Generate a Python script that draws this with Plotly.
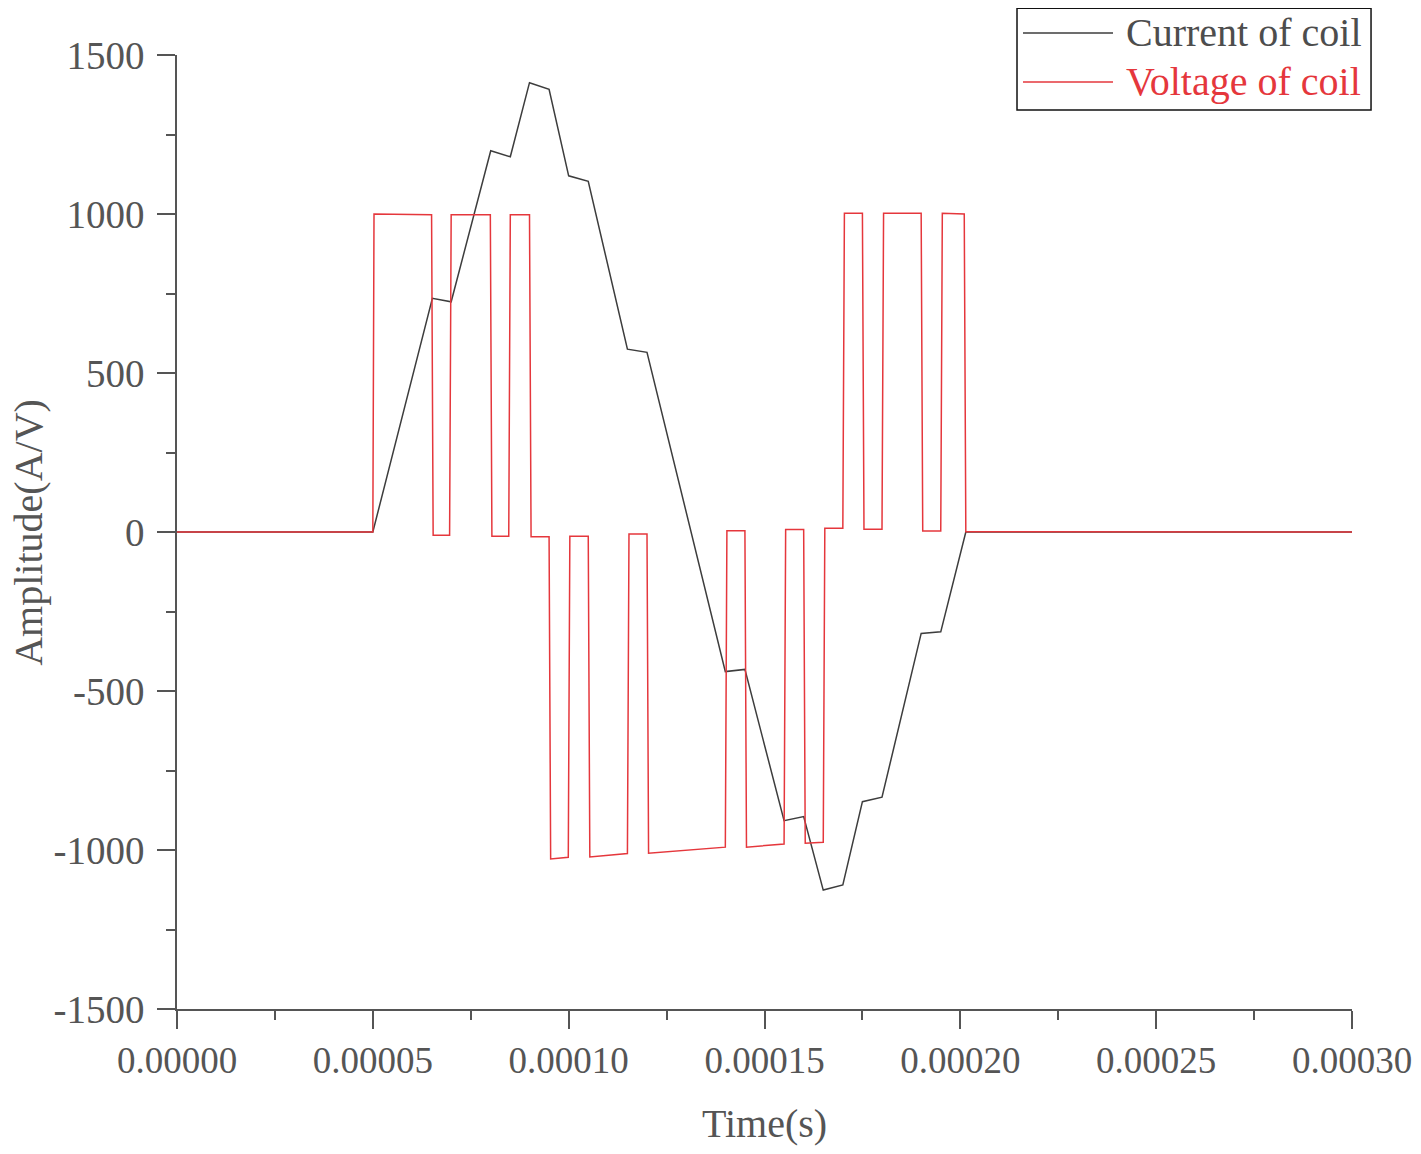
import plotly.graph_objects as go

# ---- data ----
current_t = [0, 5.0e-5, 6.52e-5, 7.0e-5, 8.01e-5, 8.51e-5, 9.0e-5, 9.5e-5, 1.0e-4, 1.05e-4,
             1.15e-4, 1.2e-4, 1.4e-4, 1.45e-4, 1.55e-4, 1.6e-4, 1.65e-4, 1.7e-4, 1.75e-4,
             1.8e-4, 1.9e-4, 1.95e-4, 2.014e-4, 3.0e-4]
current_v = [0, 0, 735, 724, 1199, 1180, 1413, 1392, 1120, 1103,
             575, 565, -439, -432, -908, -895, -1126, -1110, -848,
             -834, -319, -314, 0, 0]

voltage_t = [0, 5.0e-5, 5.03e-5, 6.5e-5, 6.54e-5, 6.96e-5, 7.0e-5, 8.0e-5, 8.04e-5, 8.47e-5,
             8.51e-5, 9.0e-5, 9.04e-5, 9.5e-5, 9.54e-5, 9.99e-5, 1.003e-4, 1.05e-4, 1.054e-4,
             1.15e-4, 1.154e-4, 1.2e-4, 1.204e-4, 1.4e-4, 1.404e-4, 1.45e-4, 1.454e-4,
             1.55e-4, 1.554e-4, 1.6e-4, 1.604e-4, 1.65e-4, 1.654e-4, 1.7e-4, 1.704e-4,
             1.75e-4, 1.754e-4, 1.8e-4, 1.804e-4, 1.9e-4, 1.904e-4, 1.95e-4, 1.954e-4,
             2.01e-4, 2.014e-4, 3.0e-4]
voltage_v = [0, 0, 1000, 998, -10, -10, 998, 998, -13, -13,
             998, 998, -15, -15, -1028, -1023, -13, -13, -1022,
             -1011, -6, -6, -1010, -991, 4, 4, -991,
             -981, 8, 8, -979, -976, 12, 12, 1002,
             1002, 9, 9, 1002, 1002, 3, 3, 1002,
             1000, 1, 0]

x_ticks = [0, 0.00005, 0.0001, 0.00015, 0.0002, 0.00025, 0.0003]
x_tick_text = ["0.00000", "0.00005", "0.00010", "0.00015", "0.00020", "0.00025", "0.00030"]
y_ticks = [-1500, -1000, -500, 0, 500, 1000, 1500]
y_tick_text = ["-1500", "-1000", "-500", "0", "500", "1000", "1500"]

series_names = ["Current of coil", "Voltage of coil"]
x_title = "Time(s)"
y_title = "Amplitude(A/V)"
black = "#3d3d3d"
red = "#e5373c"
grey = "#555555"
font_family = "Liberation Serif"

fig = go.Figure()
fig.add_trace(go.Scatter(x=current_t, y=current_v, mode="lines", name=series_names[0],
                         line=dict(color=black, width=1.5), showlegend=False))
fig.add_trace(go.Scatter(x=voltage_t, y=voltage_v, mode="lines", name=series_names[1],
                         line=dict(color=red, width=1.5), showlegend=False))

axis_common = dict(showline=True, linecolor=grey, linewidth=1.5, ticks="outside",
                   tickcolor=grey, tickwidth=1.5, ticklen=18, showgrid=False, zeroline=False,
                   mirror=False, automargin=False, ticklabeloverflow="allow")

fig.update_xaxes(range=[0, 0.0003], tickvals=x_ticks, ticktext=x_tick_text,
                 tickfont=dict(family=font_family, size=37, color=grey),
                 title=dict(text=x_title, font=dict(family=font_family, size=40, color=grey),
                            standoff=32),
                 minor=dict(ticks="outside", ticklen=9, tickcolor=grey, tickwidth=1.5,
                            dtick=0.000025, tick0=0),
                 **axis_common)
fig.update_yaxes(range=[-1500, 1500], tickvals=y_ticks, ticktext=y_tick_text,
                 tickfont=dict(family=font_family, size=39, color=grey),
                 ticklabelstandoff=5,
                 minor=dict(ticks="outside", ticklen=9, tickcolor=grey, tickwidth=1.5,
                            dtick=250, tick0=0),
                 **axis_common)

# y-axis title as rotated text (placed further left, as in the reference)
fig.add_annotation(xref="paper", yref="paper", x=-0.127, y=0.5, text=y_title, showarrow=False,
                   textangle=-90, xanchor="center", yanchor="middle",
                   font=dict(family=font_family, size=40, color=grey))

# custom legend (box, line samples, labels)
fig.add_shape(type="rect", xref="paper", yref="paper", x0=0.7149, x1=1.0162, y0=0.9423, y1=1.0490,
              line=dict(color="#111111", width=1.5), fillcolor="white", layer="above")
legend_rows = [(1.0231, black, series_names[0]), (0.9717, red, series_names[1])]
for yy, col, txt in legend_rows:
    fig.add_shape(type="line", xref="paper", yref="paper", x0=0.720, x1=0.7966, y0=yy, y1=yy,
                  line=dict(color=col, width=1.5), layer="above")
    fig.add_annotation(xref="paper", yref="paper", x=0.8060, y=yy, text=txt, showarrow=False,
                       xanchor="left", yanchor="middle",
                       font=dict(family=font_family, size=40, color=col if col == red else "#4d4d4d"))

# page body has an 8px margin; size the figure so it fits inside the window
fig.update_layout(width=1405, height=1138, margin=dict(l=169, r=61, t=47, b=137),
                  plot_bgcolor="white", paper_bgcolor="white", showlegend=False)

fig.write_html("out.html")
